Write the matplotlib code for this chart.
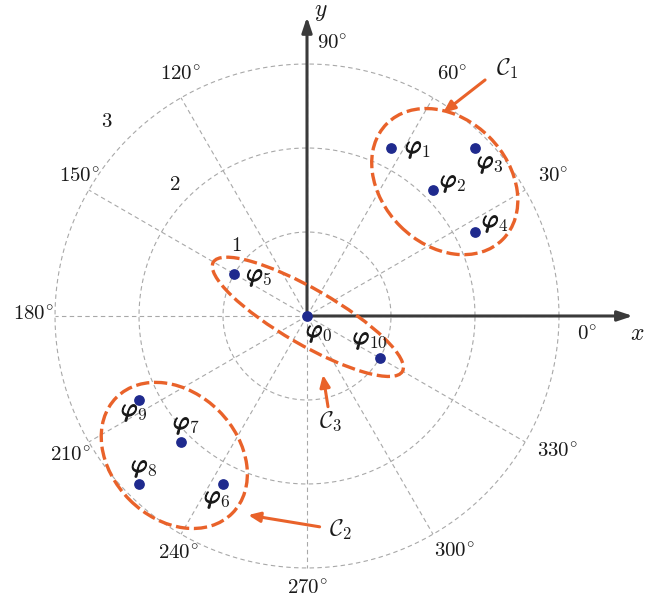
import numpy as np
import matplotlib
matplotlib.use("Agg")
import matplotlib.pyplot as plt
import matplotlib.patheffects as pe
from matplotlib.patches import Ellipse

plt.rcParams["mathtext.fontset"] = "cm"
plt.rcParams["font.family"] = "serif"

# points (cartesian, data units)
point_names = ["0", "1", "2", "3", "4", "5", "6", "7", "8", "9", "10"]
point_x = [0.0, 1.0, 1.5, 2.0, 2.0, -0.866, -1.0, -1.5, -2.0, -2.0, 0.866]
point_y = [0.0, 2.0, 1.5, 2.0, 1.0, 0.5, -2.0, -1.5, -2.0, -1.0, -0.5]
# label offsets in pixels (left edge / baseline, y up)
label_dx = [-1, 14, 7, 2, 7, 12, -19, -8, -8, -18, -27]
label_dy = [-21, -5, 3, -20, 5, -7, -19, 13, 12, -16, 14]

# clusters as ellipses
cluster_names = ["1", "2", "3"]
cluster_cx = [1.64, -1.58, 0.01]
cluster_cy = [1.60, -1.66, -0.01]
cluster_w = [1.95, 1.95, 2.6]
cluster_h = [1.5, 1.5, 0.66]
cluster_ang = [-45, -45, -30]
# arrow tail (label side) and head for each cluster tag
arrow_tail = [(2.12, 2.81), (0.15, -2.51), (0.25, -1.08)]
arrow_head = [(1.62, 2.42), (-0.70, -2.37), (0.19, -0.70)]
tag_pos = [(2.38, 2.94), (0.40, -2.55), (0.28, -1.25)]

radii = [1, 2, 3]
radius_lab_x = [-0.845, -1.571, -2.381]
radius_lab_y = [0.845, 1.560, 2.310]
angles = np.arange(0, 360, 30)
angle_lab_x = [3.333, 2.929, 1.726, 0.298, -1.512, -2.714, -3.262, -2.821, -1.536, 0.0, 1.750, 2.976]
angle_lab_y = [-0.226, 1.655, 2.869, 3.238, 2.869, 1.655, 0.012, -1.667, -2.833, -3.250, -2.810, -1.619]

orange = "#E9622A"
blue = "#1F2A8E"
gray = "#A8A8A8"
dark = "#3A3A3A"
txt = "#1A1A1A"

fig = plt.figure(figsize=(6.55, 6.03), dpi=100)
ax = fig.add_axes([0, 0, 1, 1])
ax.set_xlim(-3.655, 4.143)
ax.set_ylim(-3.417, 3.762)
ax.axis("off")

# polar grid
t = np.linspace(0, 2 * np.pi, 400)
for r in radii:
    ax.plot(r * np.cos(t), r * np.sin(t), ls=(0, (4, 3)), color=gray, lw=0.8, zorder=1)
for a in angles:
    th = np.radians(a)
    ax.plot([0, 3 * np.cos(th)], [0, 3 * np.sin(th)], ls=(0, (4, 3)), color=gray, lw=0.8, zorder=1)

for i, r in enumerate(radii):
    ax.text(radius_lab_x[i], radius_lab_y[i], r"$%d$" % r, fontsize=15, color=txt,
            ha="center", va="center")
for i, a in enumerate(angles):
    ax.text(angle_lab_x[i], angle_lab_y[i], r"$%d^{\circ}$" % a, fontsize=15, color=txt,
            ha="center", va="center")

# axes arrows
arr = dict(arrowstyle="-|>,head_length=0.9,head_width=0.3", color=dark, lw=2.2, shrinkA=0, shrinkB=0)
ax.annotate("", xy=(3.88, 0), xytext=(0, 0), arrowprops=arr, zorder=3)
ax.annotate("", xy=(0, 3.56), xytext=(0, 0), arrowprops=arr, zorder=3)
ax.text(3.93, -0.214, r"$x$", fontsize=17, color=txt, ha="center", va="center")
ax.text(0.167, 3.62, r"$y$", fontsize=17, color=txt, ha="center", va="center")

# clusters
for i in range(len(cluster_names)):
    e = Ellipse((cluster_cx[i], cluster_cy[i]), cluster_w[i], cluster_h[i], angle=cluster_ang[i],
                fill=False, ec=orange, lw=2.4, ls=(0, (4, 1.4)), zorder=4)
    ax.add_patch(e)
    ax.annotate("", xy=arrow_head[i], xytext=arrow_tail[i],
                arrowprops=dict(arrowstyle="-|>,head_length=0.7,head_width=0.3", color=orange, lw=2.2,
                                shrinkA=0, shrinkB=0), zorder=4)
    ax.text(tag_pos[i][0], tag_pos[i][1], r"$\mathcal{C}_{%s}$" % cluster_names[i],
            fontsize=17, color=txt, ha="center", va="center")

# points
ax.scatter(point_x, point_y, s=45, color=blue, zorder=5)
bold = [pe.withStroke(linewidth=0.9, foreground=txt)]
renderer = fig.canvas.get_renderer()
for i, n in enumerate(point_names):
    px, py = ax.transData.transform((point_x[i], point_y[i]))
    bx, by = px + label_dx[i], py + label_dy[i]
    # heavy phi, then plain subscript next to it
    phi = ax.annotate(r"$\varphi$", (bx, by), xycoords="figure pixels", fontsize=18, color=txt,
                      ha="left", va="baseline", zorder=6, path_effects=bold)
    bb = phi.get_window_extent(renderer)
    ax.annotate(r"$%s$" % n, (bb.x1 - 1.5, by - 4), xycoords="figure pixels", fontsize=12.5,
                color=txt, ha="left", va="baseline", zorder=6)

fig.savefig("out.png", dpi=100)
